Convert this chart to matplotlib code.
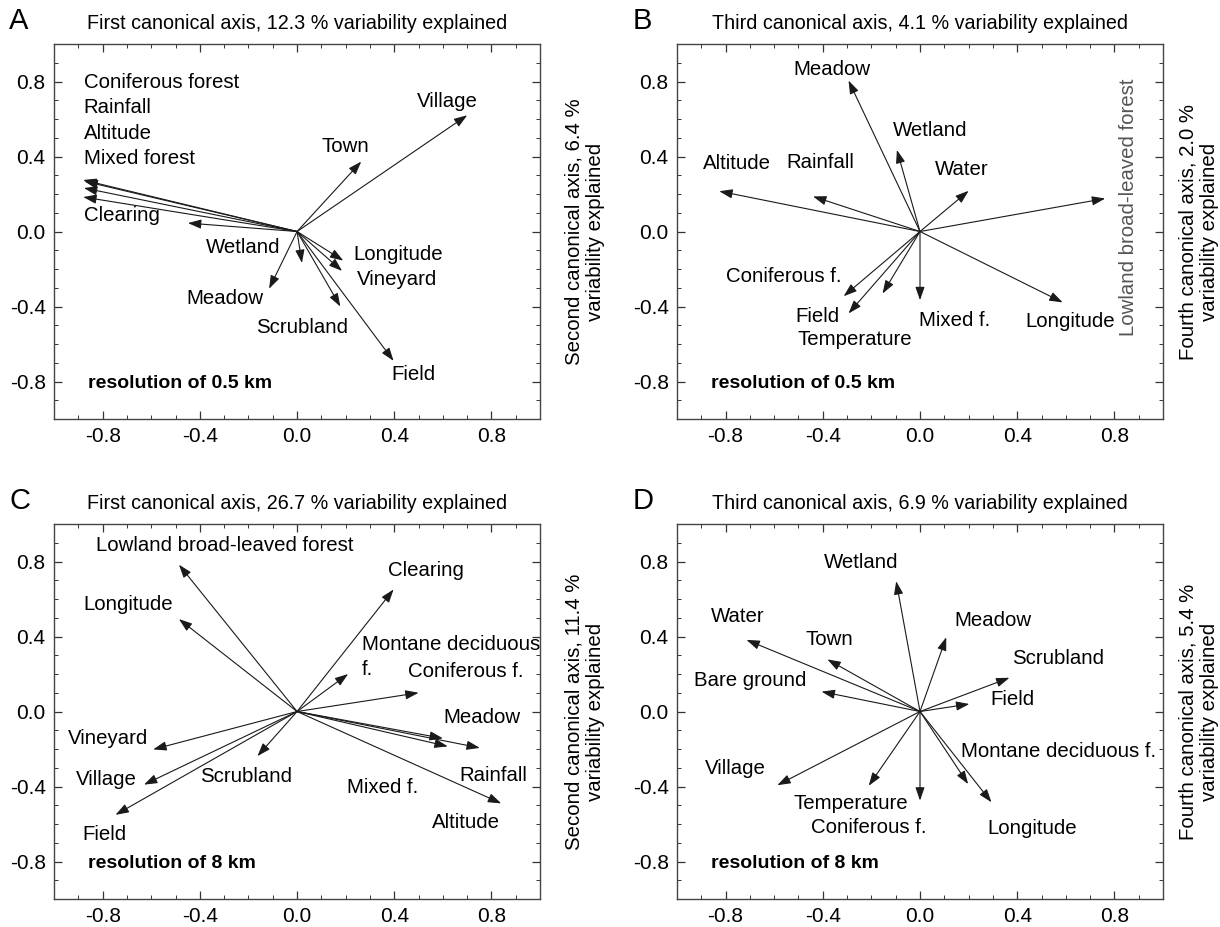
import matplotlib
matplotlib.use("Agg")
import matplotlib.pyplot as plt
from matplotlib.patches import FancyArrowPatch
from matplotlib.ticker import MultipleLocator

plt.rcParams['font.family'] = ['Liberation Sans', 'DejaVu Sans']

# panel A - 0.5 km, axes 1 and 2
a_names = ["Coniferous forest", "Rainfall", "Altitude", "Mixed forest", "Clearing", "Wetland",
           "Meadow", "Longitude", "Vineyard", "Scrubland", "Field", "Town", "Village"]
a_x = [-0.88, -0.875, -0.877, -0.88, -0.449, 0.02, -0.115, 0.19, 0.185, 0.178, 0.397, 0.264, 0.70]
a_y = [0.275, 0.268, 0.232, 0.184, 0.045, -0.168, -0.305, -0.155, -0.21, -0.40, -0.69, 0.373, 0.62]
a_lx = [-0.878, -0.878, -0.878, -0.878, -0.878, -0.376, -0.456, 0.232, 0.245, -0.168, 0.389, 0.10, 0.493]
a_ly = [0.796, 0.66, 0.523, 0.391, 0.083, -0.085, -0.357, -0.12, -0.257, -0.51, -0.762, 0.452, 0.694]

# panel B - 0.5 km, axes 3 and 4
b_names = ["Meadow", "Wetland", "Water", "Altitude", "Rainfall", "Lowland broad-leaved forest",
           "Longitude", "Mixed f.", "Coniferous f.", "Field", "Temperature"]
b_x = [-0.294, -0.095, 0.20, -0.826, -0.44, 0.762, 0.587, 0.0, -0.314, -0.294, -0.154]
b_y = [0.805, 0.435, 0.217, 0.215, 0.187, 0.176, -0.378, -0.366, -0.345, -0.437, -0.331]
b_lx = [-0.519, -0.111, 0.063, -0.892, -0.551, 0.857, 0.432, -0.005, -0.797, -0.511, -0.503]
b_ly = [0.866, 0.54, 0.333, 0.361, 0.368, 0.132, -0.481, -0.472, -0.239, -0.454, -0.574]

# panel C - 8 km, axes 1 and 2
c_names = ["Lowland broad-leaved forest", "Longitude", "Clearing", "Montane deciduous\nf.",
           "Coniferous f.", "Meadow", "Rainfall", "Mixed f.", "Altitude", "Vineyard",
           "Village", "Field", "Scrubland"]
c_x = [-0.486, -0.486, 0.397, 0.21, 0.50, 0.752, 0.62, 0.60, 0.84, -0.592, -0.63, -0.747, -0.163]
c_y = [0.783, 0.493, 0.651, 0.2, 0.10, -0.194, -0.186, -0.143, -0.49, -0.202, -0.39, -0.551, -0.238]
c_lx = [-0.827, -0.878, 0.376, 0.266, 0.458, 0.602, 0.666, 0.205, 0.554, -0.942, -0.912, -0.883, -0.398]
c_ly = [0.884, 0.569, 0.754, 0.36, 0.211, -0.03, -0.34, -0.405, -0.59, -0.146, -0.361, -0.657, -0.349]

# panel D - 8 km, axes 3 and 4
d_names = ["Wetland", "Meadow", "Water", "Town", "Bare ground", "Scrubland", "Field",
           "Montane deciduous f.", "Longitude", "Coniferous f.", "Temperature", "Village"]
d_x = [-0.098, 0.108, -0.714, -0.381, -0.405, 0.368, 0.203, 0.198, 0.294, 0.0, -0.211, -0.587]
d_y = [0.695, 0.396, 0.382, 0.278, 0.106, 0.18, 0.04, -0.387, -0.484, -0.475, -0.396, -0.393]
d_lx = [-0.397, 0.143, -0.86, -0.471, -0.932, 0.378, 0.29, 0.167, 0.278, -0.448, -0.52, -0.884]
d_ly = [0.796, 0.488, 0.505, 0.384, 0.167, 0.285, 0.062, -0.211, -0.625, -0.621, -0.488, -0.305]

panels = [
    ("A", "First canonical axis, 12.3 % variability explained",
     "Second canonical axis, 6.4 %\nvariability explained", "resolution of 0.5 km",
     a_names, a_x, a_y, a_lx, a_ly),
    ("B", "Third canonical axis, 4.1 % variability explained",
     "Fourth canonical axis, 2.0 %\nvariability explained", "resolution of 0.5 km",
     b_names, b_x, b_y, b_lx, b_ly),
    ("C", "First canonical axis, 26.7 % variability explained",
     "Second canonical axis, 11.4 %\nvariability explained", "resolution of 8 km",
     c_names, c_x, c_y, c_lx, c_ly),
    ("D", "Third canonical axis, 6.9 % variability explained",
     "Fourth canonical axis, 5.4 %\nvariability explained", "resolution of 8 km",
     d_names, d_x, d_y, d_lx, d_ly),
]
rects = [
    [0.0443, 0.548, 0.3984, 0.4045],
    [0.5549, 0.548, 0.3984, 0.4045],
    [0.0443, 0.0302, 0.3984, 0.4045],
    [0.5549, 0.0302, 0.3984, 0.4045],
]
side_x = [1.092, 1.074, 1.092, 1.074]

fig = plt.figure(figsize=(12.2, 9.27), dpi=100)

for (letter, title, ylab, res, names, xs, ys, lxs, lys), rect, sx in zip(panels, rects, side_x):
    ax = fig.add_axes(rect)
    ax.set_xlim(-1, 1)
    ax.set_ylim(-1, 1)
    ax.xaxis.set_minor_locator(MultipleLocator(0.1))
    ax.yaxis.set_minor_locator(MultipleLocator(0.1))
    ax.set_xticks([-0.8, -0.4, 0.0, 0.4, 0.8])
    ax.set_yticks([-0.8, -0.4, 0.0, 0.4, 0.8])
    ax.set_xticklabels(["-0.8", "-0.4", "0.0", "0.4", "0.8"])
    ax.set_yticklabels(["-0.8", "-0.4", "0.0", "0.4", "0.8"])
    ax.tick_params(which="both", direction="in", top=True, right=True, color="#333333")
    ax.tick_params(which="major", length=6, width=0.9, labelsize=15, pad=6)
    ax.tick_params(which="minor", length=3, width=0.7)
    for sp in ax.spines.values():
        sp.set_linewidth(1.0)
        sp.set_color("#444444")

    for name, x, y, lx, ly in zip(names, xs, ys, lxs, lys):
        arr = FancyArrowPatch((0, 0), (x, y), arrowstyle="-|>,head_length=0.8,head_width=0.28",
                              mutation_scale=10, color="#1a1a1a", lw=0.8,
                              shrinkA=0, shrinkB=0)
        ax.add_patch(arr)
        if name == "Lowland broad-leaved forest" and letter == "B":
            ax.text(lx, ly, name, rotation=90, ha="center", va="center", fontsize=14.7,
                    color="#555555")
        else:
            for i, line in enumerate(name.split("\n")):
                ax.text(lx, ly - i * 0.135, line, ha="left", va="center", fontsize=14.7)

    ax.text(-0.86, -0.81, res, fontsize=14, fontweight="bold", ha="left", va="center")
    ax.set_title(title, fontsize=14.2, pad=11)
    ax.text(sx, 0.5, ylab, transform=ax.transAxes, rotation=90, ha="center",
            va="center", fontsize=14.7, multialignment="center")
    ax.text(-0.092, 1.062, letter, transform=ax.transAxes, fontsize=21, ha="left",
            va="center")

fig.savefig("out.png", dpi=100)
